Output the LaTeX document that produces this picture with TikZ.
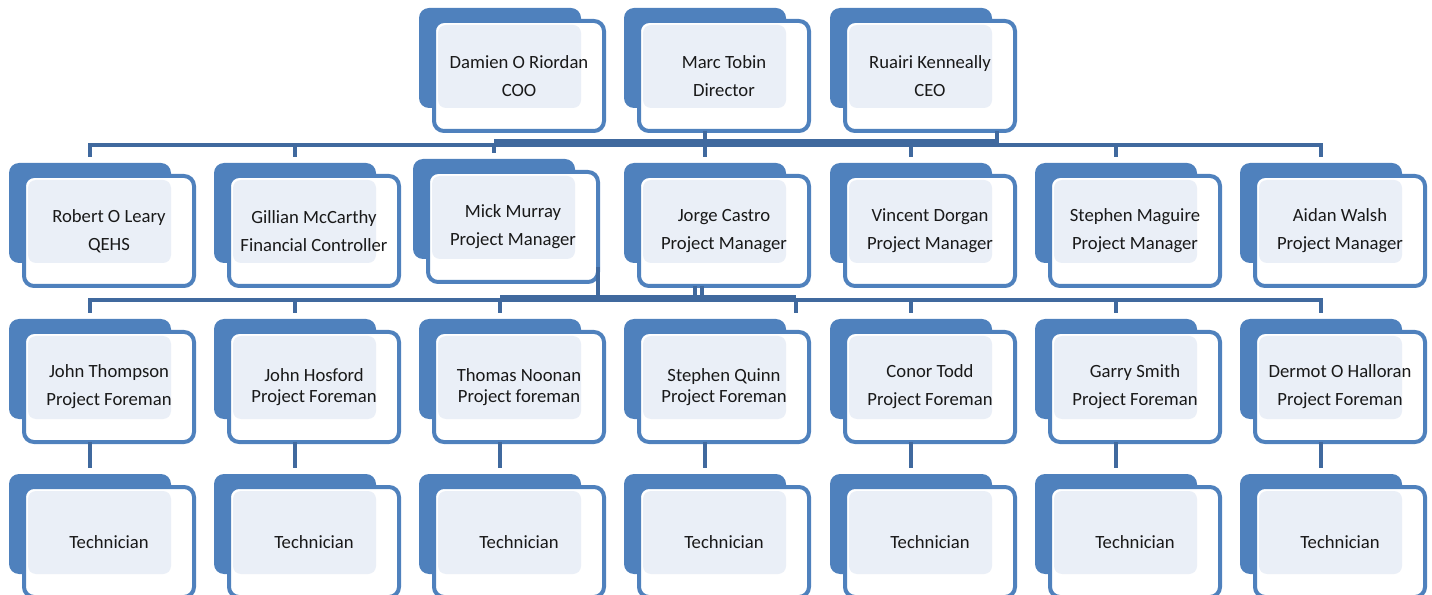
\documentclass[tikz,border=0pt]{standalone}
\usepackage{fontspec}
\setmainfont{Carlito}
\usepackage{tikz}
\usetikzlibrary{positioning,calc}
\usepackage{xcolor}
\definecolor{BoxBlue}{RGB}{79,129,189}
\definecolor{PaleBlue}{RGB}{234,239,247}
\definecolor{LinkBlue}{RGB}{64,105,158}
\tikzset{
  backbox/.style={rectangle,rounded corners=7.5pt,fill=BoxBlue,
                  minimum width=121.5pt,minimum height=75pt,inner sep=0pt,outer sep=0pt},
  frontbox/.style={rectangle,rounded corners=7.5pt,draw=BoxBlue,line width=3pt,fill=white,
                   minimum width=127.5pt,minimum height=82.5pt,inner sep=0pt,outer sep=0pt,
                   align=center,text=black!90,font=\fontsize{14pt}{21pt}\selectfont,
                   path picture={\fill[PaleBlue,rounded corners=6pt]
                     ([shift={(3pt,-3pt)}]path picture bounding box.north west) rectangle
                     ([shift={(110.25pt,-65.25pt)}]path picture bounding box.north west);}},
  tight/.style={font=\fontsize{14pt}{15.75pt}\selectfont},
  link/.style={draw=LinkBlue,line width=3.5pt},
  thinlink/.style={draw=LinkBlue,line width=3pt},
}
\newcommand{\orgcard}[5][]{%
  \node[backbox,anchor=north west] (#2-b) at (#3,#4) {};
  \node[frontbox,#1,anchor=north west] (#2) at ([shift={(11.25pt,-9.75pt)}]#2-b.north west) {#5};
}

\begin{document}
\begin{tikzpicture}[x=0.75pt,y=-0.75pt]
    \useasboundingbox (0,0) rectangle (1432,595);

    % top row
    \orgcard{damien}{419}{8}{Damien O Riordan\\COO}
    \orgcard{marc}{624}{8}{Marc Tobin\\Director}
    \orgcard{ruairi}{830}{8}{Ruairi Kenneally\\CEO}

    % managers
    \orgcard{robert}{9}{163}{Robert O Leary\\QEHS}
    \orgcard{gillian}{214}{163}{Gillian McCarthy\\Financial Controller}
    \orgcard{mick}{413}{159}{Mick Murray\\Project Manager}
    \orgcard{jorge}{624}{163}{Jorge Castro\\Project Manager}
    \orgcard{vincent}{830}{163}{Vincent Dorgan\\Project Manager}
    \orgcard{maguire}{1035}{163}{Stephen Maguire\\Project Manager}
    \orgcard{aidan}{1240}{163}{Aidan Walsh\\Project Manager}

    % foremen
    \orgcard{thompson}{9}{319}{John Thompson\\Project Foreman}
    \orgcard[tight]{hosford}{214}{319}{John Hosford\\Project Foreman}
    \orgcard[tight]{noonan}{419}{319}{Thomas Noonan\\Project foreman}
    \orgcard[tight]{quinn}{624}{319}{Stephen Quinn\\Project Foreman}
    \orgcard{todd}{830}{319}{Conor Todd\\Project Foreman}
    \orgcard{smith}{1035}{319}{Garry Smith\\Project Foreman}
    \orgcard{halloran}{1240}{319}{Dermot O Halloran\\Project Foreman}

    % technicians
    \foreach \n/\px in {1/9,2/214,3/419,4/624,5/830,6/1035,7/1240}
      \orgcard{tech\n}{\px}{474}{Technician};

    % top row to managers
    \coordinate (busA) at (0,145);
    \coordinate (busB) at (0,141);
    \coordinate (ruairiL) at ([xshift=-13.5pt]ruairi.south east);
    \draw[link] ([yshift=4.5pt]robert-b.north) |- (busA -| aidan-b.north) -- ([yshift=4.5pt]aidan-b.north);
    \foreach \n in {gillian,mick,jorge,vincent,maguire}
      \draw[link] (\n-b.north |- busA) -- ([yshift=4.5pt]\n-b.north);
    \draw[link] (mick-b.north |- busB) -- (ruairiL |- busB);
    \draw[link] (marc-b.center |- marc.south) -- (marc-b.center |- busA);
    \draw[link] (ruairiL) -- (ruairiL |- busA);

    % managers to foremen
    \coordinate (busC) at (0,300);
    \coordinate (busD) at (0,297);
    \coordinate (mickL) at ([yshift=11.25pt]mick.south east);
    \coordinate (quinnD) at ([xshift=7.5pt]quinn-b.north east);
    \draw[link] ([yshift=4.5pt]thompson-b.north) |- (busC -| halloran-b.north) -- ([yshift=4.5pt]halloran-b.north);
    \foreach \n in {hosford,noonan,todd,smith}
      \draw[link] (\n-b.north |- busC) -- ([yshift=4.5pt]\n-b.north);
    \draw[link] (quinnD |- busC) -- ([yshift=4.5pt]quinnD);
    \draw[link] (noonan-b.north |- busD) -- (quinnD |- busD);
    \draw[link] (mickL) -- (mickL |- busC);
    \draw[thinlink] ([xshift=-7.5pt]jorge-b.center |- jorge.south) -- ([xshift=-7.5pt]jorge-b.center |- busC);
    \draw[thinlink] ([xshift=-2.25pt]jorge-b.center |- jorge.south) -- ([xshift=-2.25pt]jorge-b.center |- busC);

    % foremen to technicians
    \foreach \f/\t in {thompson/tech1,hosford/tech2,noonan/tech3,quinn/tech4,todd/tech5,smith/tech6,halloran/tech7}
      \draw[link] (\f-b.center |- \f.south) -- ([yshift=4.5pt]\t-b.north);
\end{tikzpicture}
\end{document}
